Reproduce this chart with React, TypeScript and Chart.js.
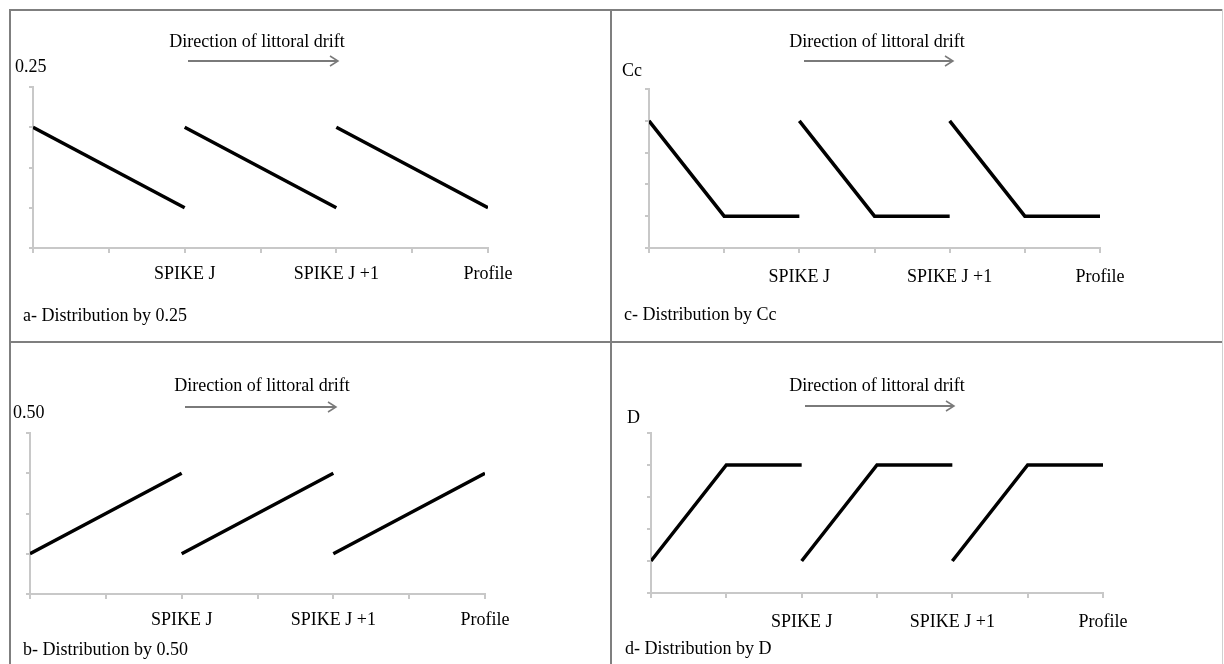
import React, { useEffect, useRef } from "react";
import { Chart, registerables } from "chart.js";

Chart.register(...registerables);

// ---- data ----
const xTickValues = [0, 1, 2, 3, 4, 5, 6];
const xTickLabels = ["", "", "SPIKE J", "", "SPIKE J +1", "", "Profile"];
const segmentX = [
  [0, 1, 2],
  [2, 3, 4],
  [4, 5, 6],
];
const valuesA = [
  [3, 2, 1],
  [3, 2, 1],
  [3, 2, 1],
];
const valuesB = [
  [1, 2, 3],
  [1, 2, 3],
  [1, 2, 3],
];
const valuesC = [
  [4, 1, 1],
  [4, 1, 1],
  [4, 1, 1],
];
const valuesD = [
  [1, 4, 4],
  [1, 4, 4],
  [1, 4, 4],
];
const yMaxA = 4;
const yMaxB = 4;
const yMaxC = 5;
const yMaxD = 5;
const headerText = "Direction of littoral drift";
const unitLabels = ["0.25", "0.50", "Cc", "D"];
const captions = [
  "a- Distribution by 0.25",
  "b- Distribution by 0.50",
  "c- Distribution by Cc",
  "d- Distribution by D",
];

// ---- layout ----
const W = 1224;
const H = 664;
const FONT = '"Liberation Serif", "Times New Roman", serif';
const AXIS_COLOR = "#c8c8c8";
const Y_AXIS_W = 10;
const X_AXIS_H = 40;

type Panel = {
  values: number[][];
  yMax: number;
  area: { left: number; right: number; top: number; bottom: number };
  labelPad: number;
  header: { x: number; y: number };
  arrow: { x1: number; x2: number; y: number };
  unit: { text: string; x: number; y: number };
  caption: { text: string; x: number; y: number };
};

const panels: Panel[] = [
  {
    values: valuesA,
    yMax: yMaxA,
    area: { left: 33, right: 488, top: 87, bottom: 248 },
    labelPad: 10,
    header: { x: 257, y: 47 },
    arrow: { x1: 188, x2: 338, y: 61 },
    unit: { text: unitLabels[0], x: 15, y: 72 },
    caption: { text: captions[0], x: 23, y: 321 },
  },
  {
    values: valuesB,
    yMax: yMaxB,
    area: { left: 30, right: 485, top: 433, bottom: 594 },
    labelPad: 10,
    header: { x: 262, y: 391 },
    arrow: { x1: 185, x2: 336, y: 407 },
    unit: { text: unitLabels[1], x: 13, y: 418 },
    caption: { text: captions[1], x: 23, y: 655 },
  },
  {
    values: valuesC,
    yMax: yMaxC,
    area: { left: 649, right: 1100, top: 89, bottom: 248 },
    labelPad: 13,
    header: { x: 877, y: 47 },
    arrow: { x1: 804, x2: 953, y: 61 },
    unit: { text: unitLabels[2], x: 622, y: 76 },
    caption: { text: captions[2], x: 624, y: 320 },
  },
  {
    values: valuesD,
    yMax: yMaxD,
    area: { left: 651, right: 1103, top: 433, bottom: 593 },
    labelPad: 13,
    header: { x: 877, y: 391 },
    arrow: { x1: 805, x2: 954, y: 406 },
    unit: { text: unitLabels[3], x: 627, y: 423 },
    caption: { text: captions[3], x: 625, y: 654 },
  },
];

const annotationPlugin = {
  id: "panelText",
  afterDraw(chart: any, _args: any, opts: any) {
    const p: Panel = opts.panel;
    const ctx = chart.ctx;
    ctx.save();
    ctx.fillStyle = "#000";
    ctx.font = `18px ${FONT}`;
    ctx.textBaseline = "alphabetic";
    ctx.textAlign = "center";
    ctx.fillText(headerText, p.header.x, p.header.y);
    ctx.textAlign = "left";
    ctx.fillText(p.unit.text, p.unit.x, p.unit.y);
    ctx.fillText(p.caption.text, p.caption.x, p.caption.y);
    // arrow
    ctx.strokeStyle = "#7a7a7a";
    ctx.lineWidth = 2;
    ctx.beginPath();
    ctx.moveTo(p.arrow.x1, p.arrow.y);
    ctx.lineTo(p.arrow.x2, p.arrow.y);
    ctx.stroke();
    ctx.lineWidth = 1.5;
    ctx.beginPath();
    ctx.moveTo(p.arrow.x2 - 8, p.arrow.y - 5);
    ctx.lineTo(p.arrow.x2, p.arrow.y);
    ctx.lineTo(p.arrow.x2 - 8, p.arrow.y + 5);
    ctx.stroke();
    ctx.restore();
  },
};

function PanelChart({ panel }: { panel: Panel }) {
  const ref = useRef<HTMLCanvasElement>(null);
  useEffect(() => {
    if (!ref.current) return;
    const a = panel.area;
    const chart = new Chart(ref.current, {
      type: "line",
      data: {
        datasets: panel.values.map((vals, i) => ({
          data: segmentX[i].map((x, j) => ({ x, y: vals[j] })),
          borderColor: "#000",
          borderWidth: 3.5,
          pointRadius: 0,
          tension: 0,
          fill: false,
        })),
      },
      options: {
        responsive: false,
        animation: false,
        devicePixelRatio: 1,
        layout: {
          padding: {
            left: a.left - Y_AXIS_W,
            right: W - a.right,
            top: a.top,
            bottom: H - a.bottom - X_AXIS_H,
          },
        },
        plugins: {
          legend: { display: false },
          tooltip: { enabled: false },
          panelText: { panel },
        } as any,
        scales: {
          x: {
            type: "linear",
            min: 0,
            max: 6,
            afterFit: (s: any) => {
              s.height = X_AXIS_H;
            },
            afterBuildTicks: (s: any) => {
              s.ticks = xTickValues.map((v) => ({ value: v }));
            },
            ticks: {
              autoSkip: false,
              maxRotation: 0,
              padding: panel.labelPad,
              color: "#000",
              font: { family: FONT, size: 18 },
              callback: (v: any) => xTickLabels[Number(v)] ?? "",
            },
            grid: {
              drawOnChartArea: false,
              drawTicks: true,
              tickLength: 5,
              color: AXIS_COLOR,
              lineWidth: 2,
            },
            border: { color: AXIS_COLOR, width: 2 },
          },
          y: {
            min: 0,
            max: panel.yMax,
            afterFit: (s: any) => {
              s.width = Y_AXIS_W;
            },
            ticks: { display: false, stepSize: 1 },
            grid: {
              drawOnChartArea: false,
              drawTicks: true,
              tickLength: 4,
              color: AXIS_COLOR,
              lineWidth: 2,
            },
            border: { color: AXIS_COLOR, width: 2 },
          },
        },
      } as any,
      plugins: [annotationPlugin],
    });
    return () => chart.destroy();
  }, [panel]);
  return (
    <canvas
      ref={ref}
      width={W}
      height={H}
      style={{ position: "absolute", left: 0, top: 0, width: W, height: H }}
    />
  );
}

const lineStyle = (l: number, t: number, w: number, h: number, c: string) => ({
  position: "absolute" as const,
  left: l,
  top: t,
  width: w,
  height: h,
  background: c,
});

export default function App() {
  return (
    <div
      style={{
        position: "absolute",
        left: 0,
        top: 0,
        width: W,
        height: H,
        background: "#fff",
        overflow: "hidden",
      }}
    >
      <div style={lineStyle(9, 9, 1214, 2, "#7f7f7f")} />
      <div style={lineStyle(9, 9, 2, 655, "#7f7f7f")} />
      <div style={lineStyle(610, 9, 2, 655, "#7f7f7f")} />
      <div style={lineStyle(9, 341, 1214, 2, "#7f7f7f")} />
      <div style={lineStyle(1222, 9, 1, 655, "#d0d0d0")} />
      {panels.map((p, i) => (
        <PanelChart key={i} panel={p} />
      ))}
    </div>
  );
}
